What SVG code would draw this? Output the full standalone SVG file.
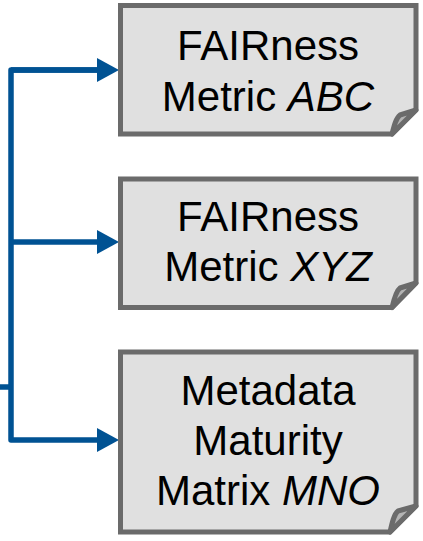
<svg xmlns="http://www.w3.org/2000/svg" width="423" height="541" viewBox="0 0 423 541">
<style>
.box{fill:#e0e0e0;stroke:#6b6b6b;stroke-width:5;stroke-linejoin:miter}
.flap{fill:#b4b4b4;stroke:#6b6b6b;stroke-width:5;stroke-linejoin:round}
.lbl{font-family:"Liberation Sans",Arial,sans-serif;font-size:42px;fill:#000;text-anchor:middle}
.conn{fill:none;stroke:#005293;stroke-width:5.5;stroke-linejoin:round}
</style>
<defs>
<marker id="ah" viewBox="0 0 22 24" refX="0" refY="12" markerWidth="22" markerHeight="24" markerUnits="userSpaceOnUse" orient="auto">
<path d="M0,0 L22,12 L0,24 Z" fill="#005293"/>
</marker>
</defs>
<g id="connectors">
<path class="conn" d="M97,70 H11 V440 H97" marker-end="url(#ah)"/>
<path class="conn" d="M11,70 H97" marker-end="url(#ah)"/>
<path class="conn" d="M11,242 H97" marker-end="url(#ah)"/>
<path class="conn" d="M0,387 H11"/>
</g>
<g id="node1">
<path class="box" d="M120.5,5.5 H416 V110 L392,134 H120.5 Z"/>
<path class="flap" d="M392,134 C394,126 396,118 400,115 L416,110 Z"/>
<text class="lbl" x="268" y="60">FAIRness</text>
<text class="lbl" x="268" y="110.5">Metric <tspan font-style="italic">ABC</tspan></text>
</g>
<g id="node2">
<path class="box" d="M120.5,179 H416 V283 L392,307.5 H120.5 Z"/>
<path class="flap" d="M392,307.5 C394,299 396,291 400,288 L416,283 Z"/>
<text class="lbl" x="268" y="231">FAIRness</text>
<text class="lbl" x="268" y="281">Metric <tspan font-style="italic">XYZ</tspan></text>
</g>
<g id="node3">
<path class="box" d="M120.5,352 H416 V506 L390,532 H120.5 Z"/>
<path class="flap" d="M390,532 C392,523 394,514 398,511 L416,506 Z"/>
<text class="lbl" x="268" y="405">Metadata</text>
<text class="lbl" x="268" y="455">Maturity</text>
<text class="lbl" x="268" y="505">Matrix <tspan font-style="italic">MNO</tspan></text>
</g>
</svg>
